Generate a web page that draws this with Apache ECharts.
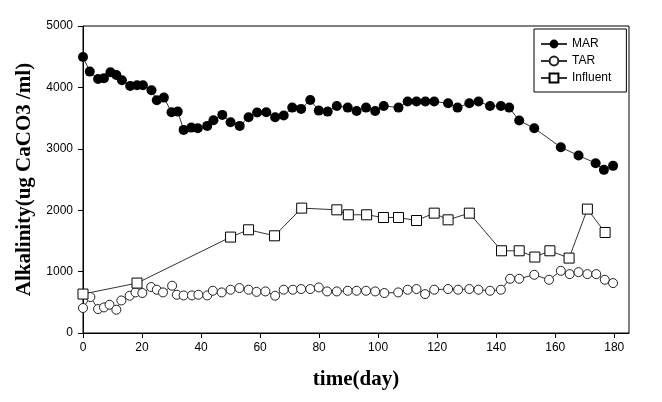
<!DOCTYPE html>
<html>
<head>
<meta charset="utf-8">
<script src="https://cdn.jsdelivr.net/npm/echarts@6/dist/echarts.min.js"></script>
<style>html,body{margin:0;padding:0;background:#fff}#c{width:662px;height:402px}</style>
</head>
<body>
<div id="c"></div>
<script>
var xTicks = [0, 20, 40, 60, 80, 100, 120, 140, 160, 180];
var yTicks = [0, 1000, 2000, 3000, 4000, 5000];

var marDays = [0, 2.3, 5.1, 7.1, 9.3, 11.3, 13.2, 16, 18.3, 20.3, 23.2, 25, 27.4, 30, 32.1, 34.1, 36.7, 38.9, 42.1, 44.2, 47.2, 50, 53.1, 56.1, 59, 62.1, 65.1, 68, 70.9, 73.9, 77, 79.9, 82.9, 86, 89.7, 92.7, 95.9, 99, 101.9, 106.9, 110, 113, 116, 119, 123.7, 126.9, 130.9, 134, 137.9, 141.6, 144.4, 147.8, 152.9, 161.9, 167.9, 173.7, 176.5, 179.6];
var marValues = [4495, 4257, 4138, 4149, 4247, 4203, 4116, 4024, 4035, 4035, 3954, 3791, 3834, 3596, 3606, 3308, 3345, 3335, 3373, 3466, 3552, 3433, 3373, 3514, 3590, 3596, 3514, 3541, 3671, 3650, 3796, 3622, 3606, 3698, 3671, 3617, 3671, 3617, 3698, 3671, 3769, 3769, 3769, 3769, 3742, 3671, 3742, 3769, 3698, 3698, 3671, 3460, 3335, 3026, 2890, 2766, 2657, 2722];

var tarDays = [0, 2.5, 5.1, 7.1, 9, 11.3, 13, 15.8, 17.8, 20.1, 23.1, 25, 27.1, 30.2, 31.8, 34.1, 36.9, 39.1, 42.1, 44, 47, 50, 53, 56.1, 58.8, 61.8, 65.1, 68, 71.1, 73.9, 77, 79.9, 82.7, 86, 89.7, 92.7, 95.9, 99, 102.1, 106.8, 110, 113, 115.9, 119, 123.7, 127.1, 130.9, 134, 137.9, 141.6, 144.7, 147.8, 152.9, 157.9, 161.9, 164.9, 167.9, 170.9, 173.9, 176.8, 179.6];
var tarValues = [407, 586, 390, 417, 460, 379, 530, 607, 661, 651, 748, 705, 661, 770, 623, 612, 612, 623, 612, 688, 661, 705, 732, 705, 670, 677, 607, 705, 705, 716, 716, 742, 677, 677, 688, 688, 688, 677, 651, 661, 705, 716, 634, 705, 716, 705, 716, 705, 688, 705, 883, 883, 948, 867, 1013, 959, 992, 959, 959, 867, 813];

var infDays = [0, 18.3, 50, 56.1, 64.9, 74.1, 86, 89.9, 96.1, 101.8, 106.9, 113, 119, 123.7, 130.9, 141.8, 147.8, 153.1, 158.2, 164.7, 170.9, 176.9];
var infValues = [634, 813, 1562, 1681, 1583, 2034, 2006, 1925, 1925, 1881, 1881, 1832, 1952, 1843, 1952, 1339, 1339, 1237, 1339, 1220, 2018, 1637];

function pairs(xs, ys) { return xs.map(function (x, i) { return [x, ys[i]]; }); }

var chart = echarts.init(document.getElementById('c'), null, {renderer: 'canvas'});
var lineStyle = {color: '#333', width: 1};
chart.setOption({
  animation: false,
  backgroundColor: '#fff',
  grid: {left: 83, right: 33, top: 26, bottom: 69, show: true, borderColor: '#000', borderWidth: 1, backgroundColor: 'transparent'},
  legend: {
    orient: 'vertical', left: 534, top: 29,
    borderColor: '#000', borderWidth: 1,
    padding: [9, 15, 8, 6], itemGap: 5, itemWidth: 26, itemHeight: 11,
    textStyle: {fontFamily: 'Liberation Sans, Arial', fontSize: 12, color: '#000'},
    data: ['MAR', 'TAR', 'Influent']
  },
  xAxis: {
    type: 'value', min: 0, max: 185,
    name: 'time(day)', nameLocation: 'middle', nameGap: 36,
    nameTextStyle: {fontFamily: 'Liberation Serif, Times New Roman', fontWeight: 'bold', fontSize: 21, color: '#000'},
    axisLine: {lineStyle: {color: '#000', width: 1}},
    axisTick: {show: true, length: 5, lineStyle: {color: '#000'}, customValues: xTicks},
    axisLabel: {margin: 9, fontFamily: 'Liberation Sans, Arial', fontSize: 12, color: '#000', customValues: xTicks,
      formatter: function (v) { return String(v); }},
    splitLine: {show: false}
  },
  yAxis: {
    type: 'value', min: 0, max: 5000, interval: 1000,
    name: 'Alkalinity(ug CaCO3 /ml)', nameLocation: 'middle', nameGap: 46,
    nameTextStyle: {fontFamily: 'Liberation Serif, Times New Roman', fontWeight: 'bold', fontSize: 21, color: '#000'},
    axisLine: {show: true, lineStyle: {color: '#000', width: 1}},
    axisTick: {show: true, length: 5, lineStyle: {color: '#000'}, customValues: yTicks},
    axisLabel: {margin: 10, fontFamily: 'Liberation Sans, Arial', fontSize: 12, color: '#000', customValues: yTicks,
      formatter: function (v) { return String(v); }},
    splitLine: {show: false}
  },
  series: [
    {name: 'MAR', type: 'line', data: pairs(marDays, marValues), symbol: 'circle', symbolSize: 10,
     itemStyle: {color: '#000', borderColor: '#000', borderWidth: 0}, lineStyle: lineStyle},
    {name: 'TAR', type: 'line', data: pairs(tarDays, tarValues), symbol: 'circle', symbolSize: 9,
     itemStyle: {color: '#fff', borderColor: '#222', borderWidth: 1}, lineStyle: lineStyle},
    {name: 'Influent', type: 'line', data: pairs(infDays, infValues), symbol: 'rect', symbolSize: 10,
     itemStyle: {color: '#fff', borderColor: '#000', borderWidth: 1}, lineStyle: lineStyle}
  ]
});
</script>
</body>
</html>
